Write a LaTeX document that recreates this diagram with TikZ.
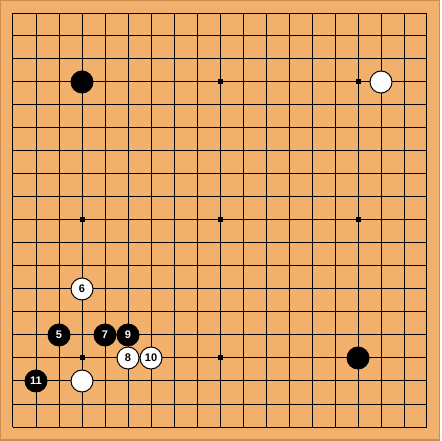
\documentclass[tikz,border=0pt]{standalone}
\usepackage{fontspec}
\setmainfont{Liberation Sans}
\usepackage{tikz}
\definecolor{board}{RGB}{242,176,109}
\definecolor{boardedge}{RGB}{205,140,78}
\tikzset{
	bstone/.style={circle, fill=black, text=white, minimum size=23pt, inner sep=0pt, font=\fontsize{11}{11}\selectfont\bfseries},
	wstone/.style={circle, draw=black, line width=1pt, fill=white, text=black, minimum size=22pt, inner sep=0pt, font=\fontsize{11}{11}\selectfont\bfseries},
	hoshi/.style={rectangle, fill=black, minimum size=5pt, inner sep=0pt}
}

\begin{document}
\begin{tikzpicture}[x=23pt, y=23pt]
		%%%%% START %%%%%
		
		\useasboundingbox (-13pt, -14pt) rectangle (428pt, 427pt);
		\draw[fill=board, draw=boardedge, line width=1.5pt] (-12.25pt, -12.75pt) rectangle (426.25pt, 426.25pt);
		
		\draw[line width=1pt, step=23pt] (0, 0) grid (18, 18);
		
		\node[hoshi] (s1) at (3, 3) {};
		\node[hoshi] (s2) at (9, 3) {};
		\node[hoshi] (s3) at (15, 3) {};
		\node[hoshi] (s4) at (3, 9) {};
		\node[hoshi] (s5) at (9, 9) {};
		\node[hoshi] (s6) at (15, 9) {};
		\node[hoshi] (s7) at (3, 15) {};
		\node[hoshi] (s8) at (9, 15) {};
		\node[hoshi] (s9) at (15, 15) {};
		
		\node[bstone] (b1) at (3, 15) {};
		\node[wstone] (w1) at (16, 15) {};
		\node[bstone] (b2) at (15, 3) {};
		\node[wstone] (w2) at (3, 2) {};
		
		\node[bstone] (b5) at (2, 4) {5};
		\node[wstone] (w6) at (3, 6) {6};
		\node[bstone] (b7) at (4, 4) {7};
		\node[wstone] (w8) at (5, 3) {8};
		\node[bstone] (b9) at (5, 4) {9};
		\node[wstone] (w10) at (6, 3) {10};
		\node[bstone] (b11) at (1, 2) {11};
		
		%%%%% END %%%%%
\end{tikzpicture}
\end{document}
